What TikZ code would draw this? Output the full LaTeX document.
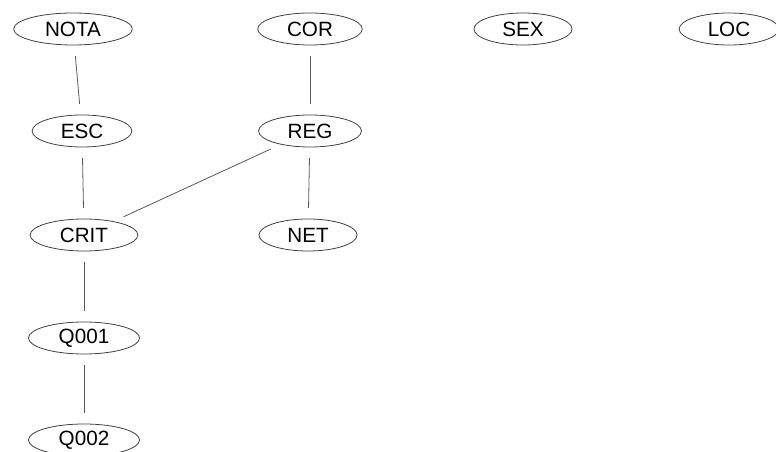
\documentclass[tikz,border=0pt]{standalone}
\usepackage{fontspec}
\setmainfont{Liberation Sans}
\usepackage{tikz}
\usetikzlibrary{shapes.geometric}

\begin{document}
\begin{tikzpicture}[x=0.75pt,y=-0.75pt,
  var/.style={draw=black!75,ellipse,line width=0.6pt,inner xsep=10.5pt,inner ysep=1pt,minimum height=24pt,font=\fontsize{15.5}{18}\selectfont},
  link/.style={draw=black!65,line width=0.6pt,shorten >=8pt,shorten <=8pt}]
\useasboundingbox (0,0) rectangle (776,452);
%put nodes
%top row
\node[var] (nota) at (73,29) {NOTA};
\node[var] (cor) at (310,29) {COR};
\node[var] (sex) at (523,29) {SEX};
\node[var] (loc) at (729,29) {LOC};
%second row
\node[var] (esc) at (82,131) {ESC};
\node[var] (reg) at (310,131) {REG};
%third row
\node[var] (crit) at (84,235) {CRIT};
\node[var] (net) at (308,235) {NET};
%chain below
\node[var] (q1) at (84,338) {Q001};
\node[var] (q2) at (84,440) {Q002};
%plot the edges
\draw[link] (nota) to (esc);
\draw[link] (cor) to (reg);
\draw[link] (esc) to (crit);
\draw[link] (reg) to (crit);
\draw[link] (reg) to (net);
\draw[link] (crit) to (q1);
\draw[link] (q1) to (q2);
\end{tikzpicture}
\end{document}
